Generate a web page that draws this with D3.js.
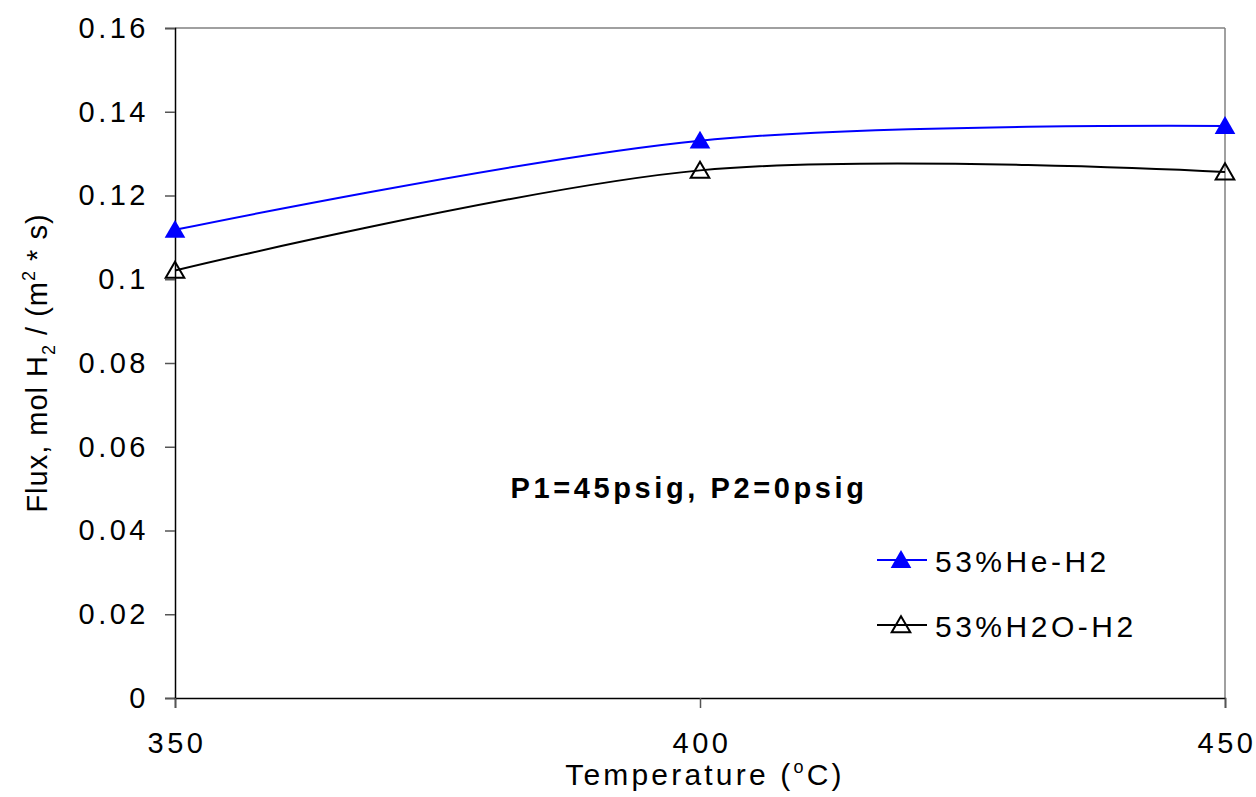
<!DOCTYPE html>
<html>
<head>
<meta charset="utf-8">
<script src="https://cdn.jsdelivr.net/npm/d3@7"></script>
<style>
  body { margin: 0; background: #fff; }
  text { font-family: "Liberation Sans", Arial, sans-serif; fill: #000; }
</style>
</head>
<body>
<svg id="chart"></svg>
<script>
// data
var temps = [350, 400, 450];
var heH2 = [0.1118, 0.1331, 0.1366];
var h2oH2 = [0.1021, 0.1260, 0.1256];
var yTicks = [0, 0.02, 0.04, 0.06, 0.08, 0.1, 0.12, 0.14, 0.16];
var seriesNames = ["53%He-H2", "53%H2O-H2"];

var width = 1256, height = 797;
var margin = {top: 28, right: 31, bottom: 99, left: 175};

var svg = d3.select("#chart")
  .attr("width", width)
  .attr("height", height);

var x = d3.scaleLinear()
  .domain([350, 450])
  .range([margin.left, width - margin.right]);

var y = d3.scaleLinear()
  .domain([0, 0.16])
  .range([height - margin.bottom, margin.top]);

// plot frame (top and right, grey)
svg.append("line")
  .attr("x1", x(350)).attr("x2", x(450))
  .attr("y1", y(0.16)).attr("y2", y(0.16))
  .attr("stroke", "#808080").attr("stroke-width", 1.5);
svg.append("line")
  .attr("x1", x(450)).attr("x2", x(450))
  .attr("y1", y(0.16)).attr("y2", y(0))
  .attr("stroke", "#808080").attr("stroke-width", 1.5);

// y axis
var yAxis = svg.append("g")
  .attr("transform", "translate(" + x(350) + ",0)")
  .call(d3.axisLeft(y).tickValues(yTicks).tickSize(10).tickPadding(16)
    .tickFormat(function(d) { return d === 0 ? "0" : String(+d.toFixed(2)); }));
yAxis.select(".domain").attr("stroke", "#000").attr("stroke-width", 1.5);
yAxis.selectAll(".tick line").attr("stroke", "#555").attr("stroke-width", 1.5);
yAxis.selectAll(".tick text")
  .style("font-size", "29px")
  .style("letter-spacing", "3.5px")
  .style("font-family", "Liberation Sans, Arial, sans-serif")
  .attr("fill", "#000");

// x axis
var xAxis = svg.append("g")
  .attr("transform", "translate(0," + y(0) + ")")
  .call(d3.axisBottom(x).tickValues(temps).tickSize(10).tickPadding(24));
xAxis.select(".domain").attr("stroke", "#000").attr("stroke-width", 1.5);
xAxis.selectAll(".tick line").attr("stroke", "#555").attr("stroke-width", 1.5);
xAxis.selectAll(".tick text")
  .style("font-size", "29px")
  .style("letter-spacing", "3.5px")
  .attr("dx", 1.5)
  .style("font-family", "Liberation Sans, Arial, sans-serif")
  .attr("fill", "#000");

// axis titles
var xt = svg.append("text")
  .attr("x", x(400) + 5)
  .attr("y", 785)
  .attr("text-anchor", "middle")
  .style("font-size", "30px")
  .style("letter-spacing", "3.2px");
xt.append("tspan").text("Temperature (");
xt.append("tspan").attr("dy", -12).style("font-size", "18px").text("o");
xt.append("tspan").attr("dy", 12).text("C)");

var yt = svg.append("text")
  .attr("transform", "translate(47," + ((y(0) + y(0.16)) / 2) + ") rotate(-90)")
  .attr("text-anchor", "middle")
  .style("font-size", "29px")
  .style("letter-spacing", "1px");
yt.append("tspan").text("Flux, mol H");
yt.append("tspan").attr("dy", 8).style("font-size", "18px").text("2");
yt.append("tspan").attr("dy", -8).text(" / (m");
yt.append("tspan").attr("dy", -12).style("font-size", "18px").text("2");
yt.append("tspan").attr("dy", 12).text(" * s)");

// annotation
svg.append("text")
  .attr("x", 689)
  .attr("y", 498)
  .attr("text-anchor", "middle")
  .style("font-size", "29px")
  .style("font-weight", "bold")
  .style("letter-spacing", "3.6px")
  .text("P1=45psig, P2=0psig");

// lines
var line = d3.line()
  .x(function(d) { return x(d[0]); })
  .y(function(d) { return y(d[1]); })
  .curve(d3.curveCardinal.tension(0));

var triFill = d3.symbol().type(d3.symbolTriangle).size(185);
var triOpen = d3.symbol().type(d3.symbolTriangle).size(150);

var series = [
  {name: seriesNames[0], values: heH2, color: "#0000ff", fill: "#0000ff"},
  {name: seriesNames[1], values: h2oH2, color: "#000000", fill: "none"}
];

series.forEach(function(s, i) {
  var pts = temps.map(function(t, j) { return [t, s.values[j]]; });
  var tri = s.fill === "none" ? triOpen : triFill;
  svg.append("path")
    .datum(pts)
    .attr("d", line)
    .attr("fill", "none")
    .attr("stroke", s.color)
    .attr("stroke-width", 2);

  svg.selectAll(".pt" + i)
    .data(pts)
    .join("path")
    .attr("class", "pt" + i)
    .attr("d", tri)
    .attr("transform", function(d) { return "translate(" + x(d[0]) + "," + (y(d[1]) + 2) + ")"; })
    .attr("fill", s.fill)
    .attr("stroke", s.color)
    .attr("stroke-width", s.fill === "none" ? 2 : 0);

  // legend
  var ly = 560 + i * 65;
  svg.append("line")
    .attr("x1", 877).attr("x2", 927)
    .attr("y1", ly).attr("y2", ly)
    .attr("stroke", s.color).attr("stroke-width", 2);
  svg.append("path")
    .attr("d", tri)
    .attr("transform", "translate(901," + (ly + 2) + ")")
    .attr("fill", s.fill)
    .attr("stroke", s.color)
    .attr("stroke-width", s.fill === "none" ? 2 : 0);
  svg.append("text")
    .attr("x", 935)
    .attr("y", ly + 12)
    .style("font-size", "30px")
    .style("letter-spacing", "3.5px")
    .text(s.name);
});
</script>
</body>
</html>
